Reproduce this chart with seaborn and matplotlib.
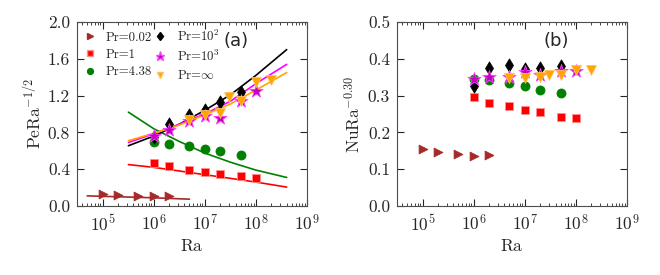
import numpy as np
import pandas as pd
import seaborn as sns
import matplotlib
matplotlib.use("Agg")
import matplotlib.pyplot as plt
from matplotlib.ticker import LogLocator, NullLocator, NullFormatter

# ---- DATA ----
labels = ["Pr=0.02", "Pr=1", "Pr=4.38",
          r"Pr=$10^2$", r"Pr=$10^3$", r"Pr=$\infty$"]

ra_002 = [1e5, 2e5, 5e5, 1e6, 2e6]
pe_002 = [0.13, 0.12, 0.11, 0.105, 0.105]
nu_002 = [0.156, 0.148, 0.141, 0.137, 0.139]

ra_1 = [1e6, 2e6, 5e6, 1e7, 2e7, 5e7, 1e8]
pe_1 = [0.47, 0.437, 0.393, 0.368, 0.349, 0.331, 0.306]
nu_1 = [0.295, 0.279, 0.273, 0.260, 0.255, 0.243, 0.240]

ra_438 = [1e6, 2e6, 5e6, 1e7, 2e7, 5e7]
pe_438 = [0.695, 0.677, 0.655, 0.622, 0.593, 0.553]
nu_438 = [0.345, 0.342, 0.333, 0.327, 0.316, 0.306]

ra_1e2 = [1e6, 2e6, 5e6, 1e7, 2e7, 5e7]
pe_1e2 = [0.75, 0.895, 0.986, 1.04, 1.13, 1.24]
nu_1e2 = [0.325, 0.376, 0.382, 0.371, 0.376, 0.380]

ra_1e3 = [1e6, 2e6, 5e6, 1e7, 2e7, 5e7, 1e8]
pe_1e3 = [0.764, 0.83, 0.92, 0.98, 0.957, 1.14, 1.25]
nu_1e3 = [0.344, 0.350, 0.351, 0.364, 0.355, 0.368, 0.368]

ra_inf = [5e6, 1e7, 2e7, 3e7, 5e7, 1e8, 2e8]
pe_inf = [0.93, 0.986, 1.01, 1.19, 1.14, 1.35, 1.37]
nu_inf = [0.347, 0.349, 0.350, 0.357, 0.357, 0.369, 0.369]

# fitted curves in panel (a)
ra_fit = [3.2e5, 1e6, 3.2e6, 1e7, 3.2e7, 1e8, 4e8]
fit_1 = [0.45, 0.42, 0.38, 0.34, 0.30, 0.26, 0.205]
fit_438 = [1.02, 0.84, 0.70, 0.575, 0.475, 0.39, 0.31]
fit_1e2 = [0.655, 0.76, 0.89, 1.04, 1.21, 1.42, 1.70]
fit_1e3 = [0.69, 0.785, 0.89, 1.0, 1.14, 1.33, 1.54]
fit_inf = [0.71, 0.79, 0.88, 0.99, 1.11, 1.26, 1.45]
ra_fit_002 = [5e4, 1e5, 3.2e5, 1e6, 3.2e6, 5e6]
fit_002 = [0.11, 0.105, 0.097, 0.089, 0.078, 0.074]

series = [
    (ra_002, pe_002, nu_002, "#a52a2a", ">", 40, "#a52a2a"),
    (ra_1, pe_1, nu_1, "red", "s", 38, "#ff9090"),
    (ra_438, pe_438, nu_438, "green", "o", 42, "green"),
    (ra_1e2, pe_1e2, nu_1e2, "black", "d", 45, "black"),
    (ra_1e3, pe_1e3, nu_1e3, "#bf00bf", "*", 100, "#ff40ff"),
    (ra_inf, pe_inf, nu_inf, "orange", "v", 50, "#ffc060"),
]
fits = [
    (ra_fit_002, fit_002, "#a52a2a"),
    (ra_fit, fit_1, "red"),
    (ra_fit, fit_438, "green"),
    (ra_fit, fit_1e2, "black"),
    (ra_fit, fit_1e3, "magenta"),
    (ra_fit, fit_inf, "orange"),
]

sns.set_style("ticks")
plt.rcParams["font.family"] = ["cmr10", "DejaVu Serif"]
plt.rcParams["mathtext.fontset"] = "cm"
plt.rcParams["axes.formatter.use_mathtext"] = True
plt.rcParams["axes.unicode_minus"] = False

fig = plt.figure(figsize=(6.6, 2.75), dpi=100)
ax1 = fig.add_axes([0.1167, 0.251, 0.3485, 0.669])
ax2 = fig.add_axes([0.6015, 0.251, 0.3485, 0.669])

# ---- panel (a) ----
for ra, y, c in fits:
    sns.lineplot(x=ra, y=y, color=c, linewidth=1.2, ax=ax1, sort=False)
handles = []
for (ra, pe, nu, c, m, s, ec), lab in zip(series, labels):
    sns.scatterplot(x=ra, y=pe, color=c, marker=m, s=s, edgecolor=ec,
                    linewidth=0.6, ax=ax1, zorder=3)
    handles.append(plt.Line2D([], [], linestyle="none", marker=m, color=c,
                              markeredgecolor=ec, markersize=np.sqrt(s) * 0.65,
                              label=lab))

# ---- panel (b) ----
for ra, pe, nu, c, m, s, ec in series:
    sns.scatterplot(x=ra, y=nu, color=c, marker=m, s=s, edgecolor=ec,
                    linewidth=0.6, ax=ax2, zorder=3)

for ax, ylim, yt, ylab in [(ax1, (0, 2.0), [0, 0.4, 0.8, 1.2, 1.6, 2.0], r"$\mathrm{PeRa}^{-1/2}$"),
                           (ax2, (0, 0.5), [0, 0.1, 0.2, 0.3, 0.4, 0.5], r"$\mathrm{NuRa}^{-0.30}$")]:
    ax.set_xscale("log")
    ax.set_xlim(10 ** 4.5, 1e9)
    ax.set_ylim(*ylim)
    ax.set_yticks(yt)
    ax.set_yticklabels([f"{v:.1f}" for v in yt])
    ax.xaxis.set_major_locator(LogLocator(base=10, numticks=10))
    ax.xaxis.set_minor_locator(LogLocator(base=10, subs=np.arange(2, 10), numticks=20))
    ax.xaxis.set_minor_formatter(NullFormatter())
    ax.yaxis.set_minor_locator(NullLocator())
    ax.tick_params(which="major", direction="in", length=5, width=0.8,
                   top=True, right=True, labelsize=12.5, pad=5)
    ax.tick_params(which="minor", direction="in", length=2.5, width=0.6,
                   top=True, right=True)
    for sp in ax.spines.values():
        sp.set_color("0.3")
        sp.set_linewidth(0.8)
    ax.set_xlabel(r"$\mathrm{Ra}$", fontsize=12.5, labelpad=3)
    ax.set_ylabel(ylab, fontsize=12.5, labelpad=3)

ax1.legend(handles=handles, ncol=2, loc="upper left", frameon=False,
           fontsize=9.2, handletextpad=0.77, columnspacing=0.14,
           labelspacing=0.4, borderaxespad=0.1, handlelength=1.0)
ax1.text(0.635, 0.897, "(a)", transform=ax1.transAxes, fontsize=13,
         family="DejaVu Sans", va="center")
ax2.text(0.635, 0.897, "(b)", transform=ax2.transAxes, fontsize=13,
         family="DejaVu Sans", va="center")

fig.savefig("out.png", dpi=100)
